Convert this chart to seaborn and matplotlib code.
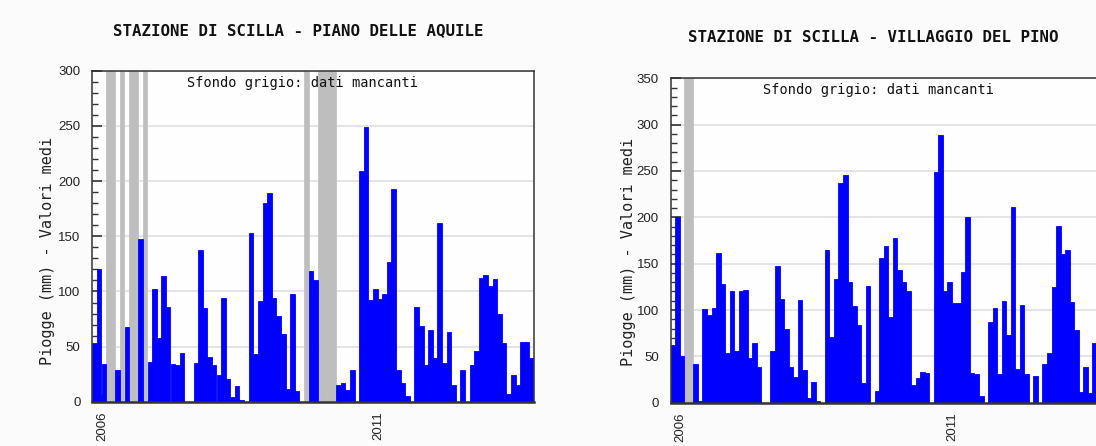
import matplotlib
matplotlib.use("Agg")
import matplotlib.pyplot as plt
import numpy as np
import pandas as pd
import seaborn as sns

# Monthly mean rainfall (mm), one value per month starting November 2005.
# None marks a month with missing data (drawn as a grey band).
first_month = "2005-11"

piano_aquile_mm = [
    53, 120, 34, None, None, 29, None, 68, None, None, 148, None,
    36, 102, 58, 114, 86, 34, 33, 44, 0, 0, 35, 138,
    85, 41, 33, 24, 94, 21, 4, 14, 1.5, 0, 153, 43,
    91, 180, 189, 94, 78, 61, 12, 98, 10, 0, None, 119,
    110, None, None, None, None, 15, 17, 11, 29, 0, 209, 249,
    92, 102, 93, 98, 127, 193, 29, 17, 5, 0, 86, 69,
    33, 65, 40, 162, 35, 63, 15, 0, 29, 0, 33, 46,
    112, 115, 105, 111, 80, 53, 7, 24, 15, 54, 54, 40,
]

villaggio_pino_mm = [
    62, 200, 50, None, None, 42, 2, 101, 95, 102, 162, 128,
    54, 120, 56, 121, 122, 48, 64, 39, 0, 0, 56, 147,
    112, 79, 38, 28, 111, 35, 5, 22, 2, 0, 165, 71,
    134, 237, 246, 130, 104, 84, 21, 126, 0, 13, 156, 169,
    93, 178, 143, 130, 120, 19, 27, 33, 32, 0, 249, 289,
    120, 130, 108, 108, 141, 200, 32, 31, 7, 0, 87, 102,
    31, 110, 73, 211, 36, 105, 31, 0, 29, 0, 42, 54,
    125, 191, 160, 165, 109, 78, 12, 38, 11, 64, 83,
]

station_titles = [
    "STAZIONE DI SCILLA - PIANO DELLE AQUILE",
    "STAZIONE DI SCILLA - VILLAGGIO DEL PINO",
]
station_ymax = [300, 350]

year_ticks = [2006, 2007, 2008, 2009, 2010, 2011, 2012, 2013]
year_labels = ["2006", "", "", "", "", "2011", "", ""]

ylabel_text = "Piogge (mm) - Valori medi"
note_text = "Sfondo grigio: dati mancanti"

N_MONTHS = 96
W, H, DPI = 1096, 446, 100

sns.set_style("white")
plt.rcParams["font.family"] = ["Liberation Sans", "DejaVu Sans"]

BAR_BLUE = "#0000ff"
MISSING_GREY = "#bebebe"
GRID_GREY = "#e2e2e2"
FRAME = "#333333"
MONO = ["DejaVu Sans Mono"]

fig = plt.figure(figsize=(W / DPI, H / DPI), dpi=DPI, facecolor="#fbfbfb")


def px_axes(left, top, width, height):
    return fig.add_axes([left / W, 1 - (top + height) / H, width / W, height / H])


# axes boxes in pixels: left, top, width, height
axes_boxes = [(92.3, 70.8, 441.6, 331.0), (670.7, 78.3, 435.2, 324.4)]
title_pos = [(298, 31), (873, 38)]
ylabel_pos = [(48, 251), (628, 252)]

series = [piano_aquile_mm, villaggio_pino_mm]
months = pd.period_range(first_month, periods=N_MONTHS, freq="M")
# bar k is centred on k; the year tick sits just after the start of January
jan_pos = {p.year: i - 0.3 for i, p in enumerate(months) if p.month == 1}

for values, title, ymax, box, tpos, lpos in zip(
    series, station_titles, station_ymax, axes_boxes, title_pos, ylabel_pos
):
    ax = px_axes(*box)
    ax.set_facecolor("#fefefe")

    df = pd.DataFrame({"pos": np.arange(len(values)),
                       "mm": pd.array(values, dtype="Float64").astype(float)})
    present = df.dropna()
    missing = df[df["mm"].isna()]

    for p in missing["pos"]:
        ax.axvspan(p - 0.5, p + 0.5, facecolor=MISSING_GREY,
                   edgecolor=MISSING_GREY, lw=0.5, zorder=1)

    # adjacent months touch; a thin same-colour edge closes rendering seams
    sns.barplot(data=present, x="pos", y="mm", native_scale=True, width=1.0,
                gap=0, color=BAR_BLUE, saturation=1, errorbar=None,
                edgecolor=BAR_BLUE, linewidth=0.6, ax=ax, zorder=2)

    ax.set_xlim(-0.5, N_MONTHS - 0.5)
    ax.set_ylim(0, ymax)

    ax.set_yticks(np.arange(0, ymax + 1, 50))
    ax.set_yticks(np.arange(0, ymax + 1, 10), minor=True)
    ax.set_xticks([jan_pos[y] for y in year_ticks])
    ax.set_xticklabels(year_labels, rotation=90, va="top", ha="center")

    ax.yaxis.grid(True, which="major", color=GRID_GREY, lw=1.3)
    ax.set_axisbelow(True)

    ax.tick_params(axis="y", which="major", direction="in", length=7,
                   width=1.2, color=FRAME, pad=8.5, labelsize=9.5,
                   labelcolor="#222222", left=True, right=False)
    ax.tick_params(axis="y", which="minor", direction="in", length=4,
                   width=1.0, color=FRAME, left=True, right=False)
    ax.tick_params(axis="x", which="major", direction="in", length=6,
                   width=1.2, color=FRAME, pad=7, labelsize=9.5,
                   labelcolor="#222222", bottom=True, top=False)

    for name, spine in ax.spines.items():
        spine.set_visible(True)
        spine.set_color(FRAME)
        spine.set_linewidth(1.8 if name == "bottom" else 1.1)
        spine.set_zorder(3)

    ax.set_xlabel("")
    ax.set_ylabel("")

    ax.text(0.477, 0.985, note_text, transform=ax.transAxes, ha="center",
            va="top", family=MONO, fontsize=9.8, color="#111111", zorder=5)

    fig.text(tpos[0] / W, 1 - tpos[1] / H, title, ha="center", va="center",
             family=MONO, fontweight="bold", fontsize=11.3, color="#111111")
    fig.text(lpos[0] / W, 1 - lpos[1] / H, ylabel_text, ha="center",
             va="center", rotation=90, family=MONO, fontsize=11,
             color="#222222")

fig.savefig("out.png", dpi=DPI, facecolor=fig.get_facecolor())
